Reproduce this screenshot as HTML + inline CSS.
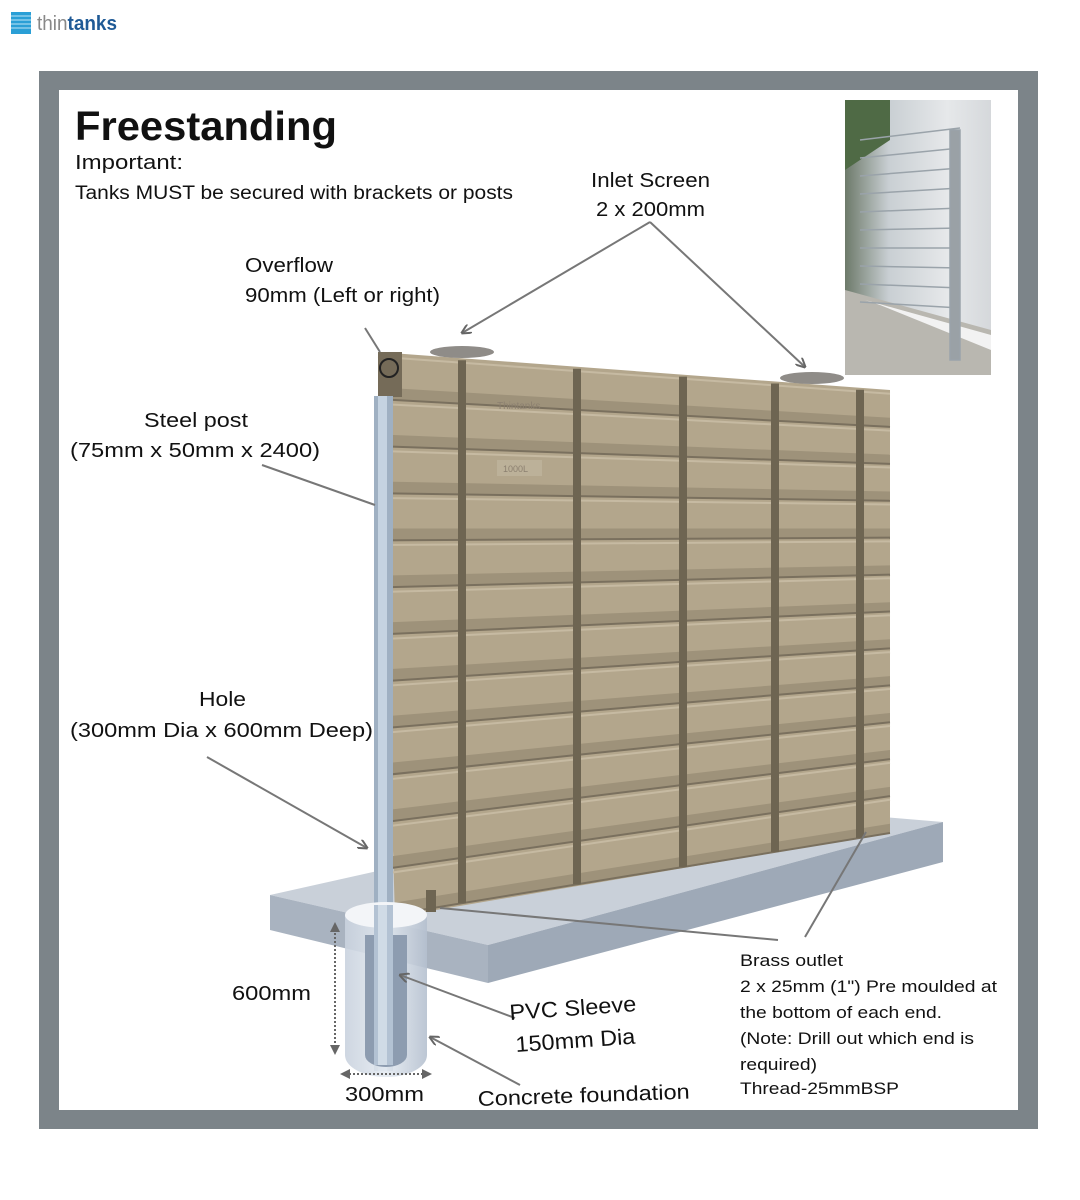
<!DOCTYPE html>
<html><head><meta charset="utf-8"><style>
html,body{margin:0;padding:0;background:#fff;}
svg{display:block;font-family:"Liberation Sans",sans-serif;}
</style></head><body>
<svg id="s" width="1080" height="1200" viewBox="0 0 1080 1200" xmlns="http://www.w3.org/2000/svg">
<defs>
<marker id="ah" markerWidth="10" markerHeight="10" refX="9" refY="5" orient="auto" markerUnits="userSpaceOnUse"><path d="M0,0 L10,5 L0,10" fill="none" stroke="#666" stroke-width="2"/></marker>
<linearGradient id="ph" x1="0" x2="1"><stop offset="0" stop-color="#6d7a6a"/><stop offset="0.3" stop-color="#c9cfd3"/><stop offset="0.7" stop-color="#e6e8ea"/><stop offset="1" stop-color="#d5d8db"/></linearGradient>
<linearGradient id="cyl" x1="0" x2="1"><stop offset="0" stop-color="#c9d2de"/><stop offset="0.5" stop-color="#e4eaf1"/><stop offset="1" stop-color="#b5c0cf"/></linearGradient>
</defs>
<g>
<rect x="11" y="12" width="20" height="22" fill="#2a9fd6"/>
<g stroke="#bfe6f7" stroke-width="1"><line x1="11" y1="16" x2="31" y2="16"/><line x1="11" y1="20" x2="31" y2="20"/><line x1="11" y1="24" x2="31" y2="24"/><line x1="11" y1="28" x2="31" y2="28"/></g>
<text x="37" y="30" font-size="20" fill="#888" textLength="80" lengthAdjust="spacingAndGlyphs">thin<tspan fill="#1f5a96" font-weight="bold">tanks</tspan></text>
</g>
<rect x="39" y="71" width="999" height="1058" fill="#7c8489"/>
<rect x="59" y="90" width="959" height="1020" fill="#fff"/>
<rect x="845" y="100" width="146" height="275" fill="url(#ph)"/>
<polygon points="845,100 890,100 890,140 845,170" fill="#4f6a45"/>
<polygon points="845,290 991,330 991,375 845,375" fill="#b9b7b0"/>
<polygon points="865,300 991,335 991,350 880,305" fill="#f2f2f2"/>
<g stroke="#9aa3aa" stroke-width="1.5" id="photolines"></g>
<polygon points="270,895 400,866 860,815 943,822 488,945" fill="#c9d0d9"/>
<polygon points="488,945 943,822 943,862 488,983" fill="#9ea9b7"/>
<polygon points="270,895 488,945 488,983 270,930" fill="#a9b3c0"/>
<g id="tank"></g>
<rect x="374" y="396" width="19" height="675" fill="#9fb0c2"/>
<rect x="378" y="396" width="9" height="675" fill="#c5d3e1"/>
<path d="M345,915 L345,1055 A41,22 0 0 0 427,1055 L427,915 Z" fill="url(#cyl)" opacity="0.9"/>
<ellipse cx="386" cy="915" rx="41" ry="13" fill="#f3f5f8"/>
<path d="M365,935 L365,1055 A21,12 0 0 0 407,1055 L407,935 Z" fill="#8d9cb0"/>
<rect x="374" y="905" width="19" height="160" fill="#b3c2d3"/>
<rect x="378" y="905" width="9" height="160" fill="#d0dbe6"/>
<line x1="335" y1="925" x2="335" y2="1052" stroke="#666" stroke-width="2" stroke-dasharray="2,2"/>
<path d="M330,932 L335,922 L340,932 Z M330,1045 L335,1055 L340,1045 Z" fill="#666"/>
<line x1="345" y1="1074" x2="427" y2="1074" stroke="#666" stroke-width="2" stroke-dasharray="2,2"/>
<path d="M350,1069 L340,1074 L350,1079 Z M422,1069 L432,1074 L422,1079 Z" fill="#666"/>
<g stroke="#777" stroke-width="2" fill="none">
<line x1="650" y1="222" x2="462" y2="333" marker-end="url(#ah)"/>
<line x1="650" y1="222" x2="805" y2="367" marker-end="url(#ah)"/>
<line x1="365" y1="328" x2="380" y2="352"/>
<line x1="262" y1="465" x2="375" y2="505"/>
<line x1="207" y1="757" x2="367" y2="848" marker-end="url(#ah)"/>
<line x1="515" y1="1018" x2="400" y2="975" marker-end="url(#ah)"/>
<line x1="520" y1="1085" x2="430" y2="1037" marker-end="url(#ah)"/>
<line x1="778" y1="940" x2="440" y2="908"/>
<line x1="805" y1="937" x2="866" y2="832"/>
</g>
<g fill="#111" lengthAdjust="spacingAndGlyphs">
<text x="75" y="140" font-size="41" font-weight="bold" textLength="262" lengthAdjust="spacingAndGlyphs">Freestanding</text>
<text x="75" y="169" font-size="20" textLength="108" lengthAdjust="spacingAndGlyphs">Important:</text>
<text x="75" y="199" font-size="19" textLength="438" lengthAdjust="spacingAndGlyphs">Tanks MUST be secured with brackets or posts</text>
<text x="591" y="187" font-size="20" textLength="119" lengthAdjust="spacingAndGlyphs">Inlet Screen</text>
<text x="596" y="216" font-size="20" textLength="109" lengthAdjust="spacingAndGlyphs">2 x 200mm</text>
<text x="245" y="272" font-size="20" textLength="88" lengthAdjust="spacingAndGlyphs">Overflow</text>
<text x="245" y="302" font-size="20" textLength="195" lengthAdjust="spacingAndGlyphs">90mm (Left or right)</text>
<text x="144" y="427" font-size="20" textLength="104" lengthAdjust="spacingAndGlyphs">Steel post</text>
<text x="70" y="457" font-size="20" textLength="250" lengthAdjust="spacingAndGlyphs">(75mm x 50mm x 2400)</text>
<text x="199" y="706" font-size="20" textLength="47" lengthAdjust="spacingAndGlyphs">Hole</text>
<text x="70" y="737" font-size="20" textLength="303" lengthAdjust="spacingAndGlyphs">(300mm Dia x 600mm Deep)</text>
<text x="232" y="1000" font-size="20" textLength="79" lengthAdjust="spacingAndGlyphs">600mm</text>
<text x="510" y="1020" font-size="22" transform="rotate(-4 510 1020)" textLength="127" lengthAdjust="spacingAndGlyphs">PVC Sleeve</text>
<text x="516" y="1052" font-size="22" transform="rotate(-4 516 1052)" textLength="120" lengthAdjust="spacingAndGlyphs">150mm Dia</text>
<text x="345" y="1101" font-size="20" textLength="79" lengthAdjust="spacingAndGlyphs">300mm</text>
<text x="478" y="1106" font-size="21" transform="rotate(-2 478 1106)" textLength="212" lengthAdjust="spacingAndGlyphs">Concrete foundation</text>
<g font-size="16.5"><text x="740" y="966" textLength="103" lengthAdjust="spacingAndGlyphs">Brass outlet</text>
<text x="740" y="992" textLength="257" lengthAdjust="spacingAndGlyphs">2 x 25mm (1") Pre moulded at</text>
<text x="740" y="1018" textLength="202" lengthAdjust="spacingAndGlyphs">the bottom of each end.</text>
<text x="740" y="1044" textLength="234" lengthAdjust="spacingAndGlyphs">(Note: Drill out which end is</text>
<text x="740" y="1070" textLength="77" lengthAdjust="spacingAndGlyphs">required)</text>
<text x="740" y="1094" textLength="159" lengthAdjust="spacingAndGlyphs">Thread-25mmBSP</text></g>
</g>
</svg>
<script>
(function(){
var NS="http://www.w3.org/2000/svg",t=document.getElementById('tank');
function el(n,a){var e=document.createElementNS(NS,n);for(var k in a)e.setAttribute(k,a[k]);t.appendChild(e);return e;}
var xl=378,xr=890,topL=352,topR=390,botL=917,botR=833;
function yAt(x,f){var u=(x-xl)/(xr-xl);var top=topL+(topR-topL)*u,bot=botL+(botR-botL)*u;return top+(bot-top)*f;}
el('polygon',{points:xl+','+topL+' '+xr+','+topR+' '+xr+','+botR+' '+(xl+17)+','+botL,fill:'#b3a68c'});
var N=12;
for(var i=0;i<N;i++){
 var f0=i/N,f1=(i+1)/N;
 var a=yAt(xl,f1),b=yAt(xr,f1),a2=yAt(xl,f1-0.25/N),b2=yAt(xr,f1-0.25/N);
 el('polygon',{points:xl+','+a2+' '+xr+','+b2+' '+xr+','+b+' '+xl+','+a,fill:'#9e927a'});
 el('line',{x1:xl,y1:a,x2:xr,y2:b,stroke:'#7a705e','stroke-width':2});
 var c=yAt(xl,f0+0.1/N),d=yAt(xr,f0+0.1/N);
 el('line',{x1:xl,y1:c,x2:xr,y2:d,stroke:'#c6baa2','stroke-width':2});
}
[462,577,683,775,860].forEach(function(x){
 el('line',{x1:x,y1:yAt(x,0)+2,x2:x,y2:yAt(x,1),stroke:'#6e6552','stroke-width':8});
});
el('rect',{x:378,y:352,width:24,height:45,fill:'#756b58'});
el('circle',{cx:389,cy:368,r:9,fill:'none',stroke:'#222','stroke-width':2});
el('ellipse',{cx:462,cy:352,rx:32,ry:6,fill:'#8f8c88'});
el('ellipse',{cx:812,cy:378,rx:32,ry:6,fill:'#8f8c88'});
el('text',{x:497,y:409,'font-size':10,fill:'#8c8070'}).textContent='Thintanks';
el('rect',{x:497,y:460,width:45,height:16,fill:'#bcb199'});
el('text',{x:503,y:472,'font-size':9,fill:'#8c8070'}).textContent='1000L';
el('rect',{x:426,y:890,width:10,height:22,fill:'#6e6552'});
var p=document.getElementById('photolines');
for(var k=0;k<10;k++){var l=document.createElementNS(NS,'line');var y0=140+k*16,y1=128+k*20;
l.setAttribute('x1',860);l.setAttribute('y1',y0+k*2);l.setAttribute('x2',960);l.setAttribute('y2',y1);p.appendChild(l);}
var v=document.createElementNS(NS,'rect');v.setAttribute('x',950);v.setAttribute('y',130);v.setAttribute('width',10);v.setAttribute('height',230);v.setAttribute('fill','#9aa1a6');p.appendChild(v);
})();
</script>
</body></html>
